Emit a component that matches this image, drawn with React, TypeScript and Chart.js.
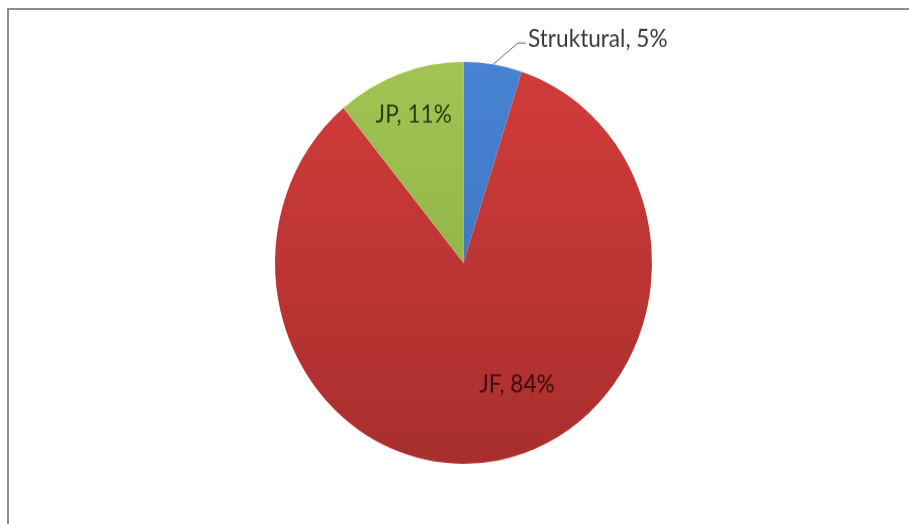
import { useEffect, useRef } from "react";
import { Chart, ArcElement, PieController } from "chart.js";

Chart.register(ArcElement, PieController);

// ---- data ----
const categories = ["Struktural", "JF", "JP"];
const shares = [5, 84, 11];
const percentLabels = ["5%", "84%", "11%"];

// ---- styles ----
const sliceTop = ["#4883d3", "#d23c3a", "#a2c454"];
const sliceBottom = ["#3a6db5", "#a82f2e", "#88a93f"];
const labelColors = ["#383838", "#3a0e0e", "#2c3a10"];
const LABEL_FONT = '22.6px Lato, "Open Sans", sans-serif';
const STRETCH_Y = 1.0663;
const CANVAS_W = 909;
const CANVAS_H = 491;

// label placement per slice (inside fraction of radius, angle shift in radians)
const placement = [
  { outside: true, frac: 0, shift: 0 },
  { outside: false, frac: 0.67, shift: -0.248 },
  { outside: false, frac: 0.78, shift: 0 },
];

const labelPlugin = {
  id: "excelLabels",
  afterDatasetsDraw(chart: any) {
    const ctx = chart.ctx;
    const meta = chart.getDatasetMeta(0);
    ctx.save();
    ctx.font = LABEL_FONT;
    meta.data.forEach((arc: any, i: number) => {
      const p = arc.getProps(["x", "y", "startAngle", "endAngle", "outerRadius"], true);
      const mid = (p.startAngle + p.endAngle) / 2;
      const text = `${categories[i]}, ${percentLabels[i]}`;
      const pl = placement[i];
      ctx.fillStyle = labelColors[i];
      if (pl.outside) {
        const sx = p.x + Math.cos(mid) * p.outerRadius;
        const sy = p.y + Math.sin(mid) * p.outerRadius;
        const ex = sx + 25;
        const ey = sy - 20;
        ctx.strokeStyle = "#6e6e6e";
        ctx.lineWidth = 1;
        ctx.beginPath();
        ctx.moveTo(sx, sy);
        ctx.lineTo(ex, ey);
        ctx.lineTo(ex + 8, ey);
        ctx.stroke();
        ctx.textAlign = "left";
        ctx.textBaseline = "middle";
        ctx.fillText(text, ex + 10, ey - 4);
      } else {
        const a = mid + pl.shift;
        const r = p.outerRadius * pl.frac;
        ctx.textAlign = "center";
        ctx.textBaseline = "middle";
        ctx.fillText(text, p.x + Math.cos(a) * r, p.y + Math.sin(a) * r);
      }
    });
    ctx.restore();
  },
};

export default function App() {
  const ref = useRef<HTMLCanvasElement | null>(null);

  useEffect(() => {
    if (!ref.current) return;
    const chart = new Chart(ref.current, {
      type: "pie",
      data: {
        labels: categories,
        datasets: [
          {
            data: shares,
            borderWidth: 0,
            hoverOffset: 0,
            offset: 0,
            backgroundColor: (c: any) => {
              const ch = c.chart;
              const area = ch.chartArea;
              const i = c.dataIndex;
              if (!area) return sliceTop[i];
              const g = ch.ctx.createLinearGradient(0, area.top, 0, area.bottom);
              g.addColorStop(0, sliceTop[i]);
              g.addColorStop(1, sliceBottom[i]);
              return g;
            },
          },
        ],
      },
      options: {
        responsive: false,
        animation: false,
        events: [],
        layout: { padding: { top: 58, bottom: 56, left: 18, right: 0 } },
        plugins: { legend: { display: false }, tooltip: { enabled: false } },
      },
      plugins: [labelPlugin],
    });
    return () => chart.destroy();
  }, []);

  return (
    <div style={{ position: "fixed", left: 0, top: 0, width: 909, height: 524, overflow: "hidden", background: "#fff" }}>
      <div
        style={{
          position: "absolute",
          left: 7,
          top: 8,
          width: 1000,
          height: 1000,
          borderTop: "2px solid #8e8e8e",
          borderLeft: "2px solid #8e8e8e",
          boxSizing: "border-box",
        }}
      />
      <div
        style={{
          position: "absolute",
          left: 0,
          top: 0,
          width: CANVAS_W,
          height: CANVAS_H,
          transform: `scaleY(${STRETCH_Y})`,
          transformOrigin: "0 0",
        }}
      >
        <canvas ref={ref} width={CANVAS_W} height={CANVAS_H} />
      </div>
    </div>
  );
}
